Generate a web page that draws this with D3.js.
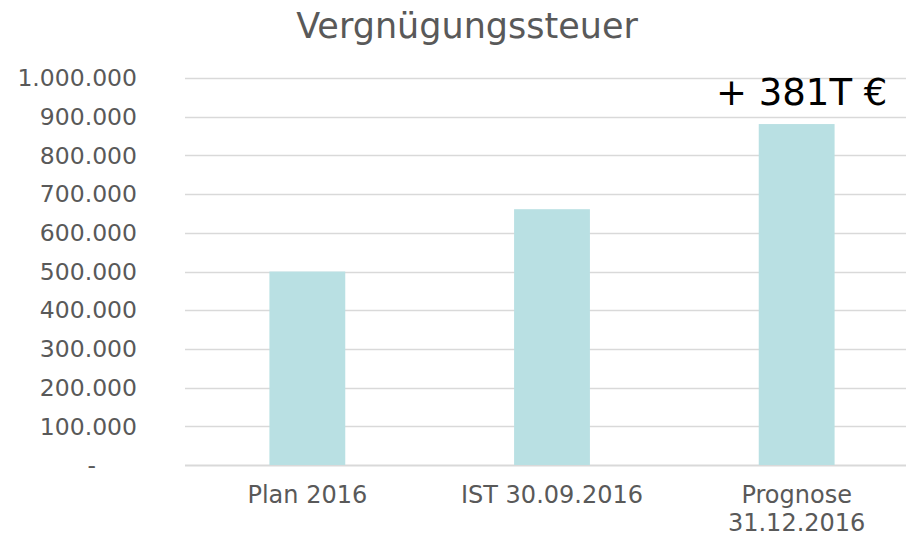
<!DOCTYPE html>
<html>
<head>
<meta charset="utf-8">
<script src="https://cdn.jsdelivr.net/npm/d3@7"></script>
<style>
  body { margin: 0; background: #fff; }
  text { font-family: "DejaVu Sans", Verdana, sans-serif; }
</style>
</head>
<body>
<div id="container"></div>
<script>
const categories = [["Plan 2016"], ["IST 30.09.2016"], ["Prognose", "31.12.2016"]];
const values = [500000, 661000, 881000];
const tickValues = [0, 100000, 200000, 300000, 400000, 500000, 600000, 700000, 800000, 900000, 1000000];
const title = "Vergnügungssteuer";
const note = "+ 381T €";

const width = 906;
const height = 537;
const margin = ({ top: 78, right: 0, bottom: 72, left: 185 });

let svg = d3.select("#container").append("svg")
    .attr("width", width)
    .attr("height", height);

let x = d3.scaleBand()
    .domain(d3.range(categories.length))
    .range([margin.left, 919])
    .paddingInner(0.69)
    .paddingOuter(0.345);

let y = d3.scaleLinear()
    .domain([0, 1000000])
    .range([465, margin.top]);

const fmt = d => d === 0 ? "-" : d3.format(",")(d).replace(/,/g, ".");

// grid
svg.append("g")
    .selectAll("line")
    .data(tickValues)
    .join("line")
    .attr("x1", margin.left)
    .attr("x2", width)
    .attr("y1", d => Math.round(y(d)) + 0.5)
    .attr("y2", d => Math.round(y(d)) + 0.5)
    .attr("stroke", "#d9d9d9")
    .attr("stroke-width", d => d === 0 ? 2 : 1.5);

// y labels
svg.append("g")
    .selectAll("text")
    .data(tickValues)
    .join("text")
    .attr("x", d => d === 0 ? 96 : 137)
    .attr("y", d => y(d))
    .attr("dy", "0.35em")
    .attr("text-anchor", "end")
    .attr("fill", "#595959")
    .attr("font-size", 23.5)
    .text(fmt);

// bars
svg.append("g")
    .selectAll("rect")
    .data(values)
    .join("rect")
    .attr("x", (d, i) => x(i))
    .attr("width", x.bandwidth())
    .attr("y", d => y(d))
    .attr("height", d => y(0) - y(d))
    .attr("fill", "#b9e0e3");

// category labels
svg.append("g")
    .selectAll("text")
    .data(categories)
    .join("text")
    .attr("x", (d, i) => x(i) + x.bandwidth() / 2)
    .attr("y", 503)
    .attr("text-anchor", "middle")
    .attr("fill", "#595959")
    .attr("font-size", 24)
    .selectAll("tspan")
    .data(d => d)
    .join("tspan")
    .attr("x", function () { return this.parentNode.getAttribute("x"); })
    .attr("dy", (d, i) => i === 0 ? 0 : 28)
    .text(d => d);

// title
svg.append("text")
    .attr("x", 467)
    .attr("y", 38)
    .attr("text-anchor", "middle")
    .attr("fill", "#595959")
    .attr("font-size", 35)
    .text(title);

// annotation
svg.append("text")
    .attr("x", x(2) + x.bandwidth() / 2 + 5)
    .attr("y", 105)
    .attr("text-anchor", "middle")
    .attr("fill", "#000")
    .attr("font-size", 37)
    .text(note);
</script>
</body>
</html>
